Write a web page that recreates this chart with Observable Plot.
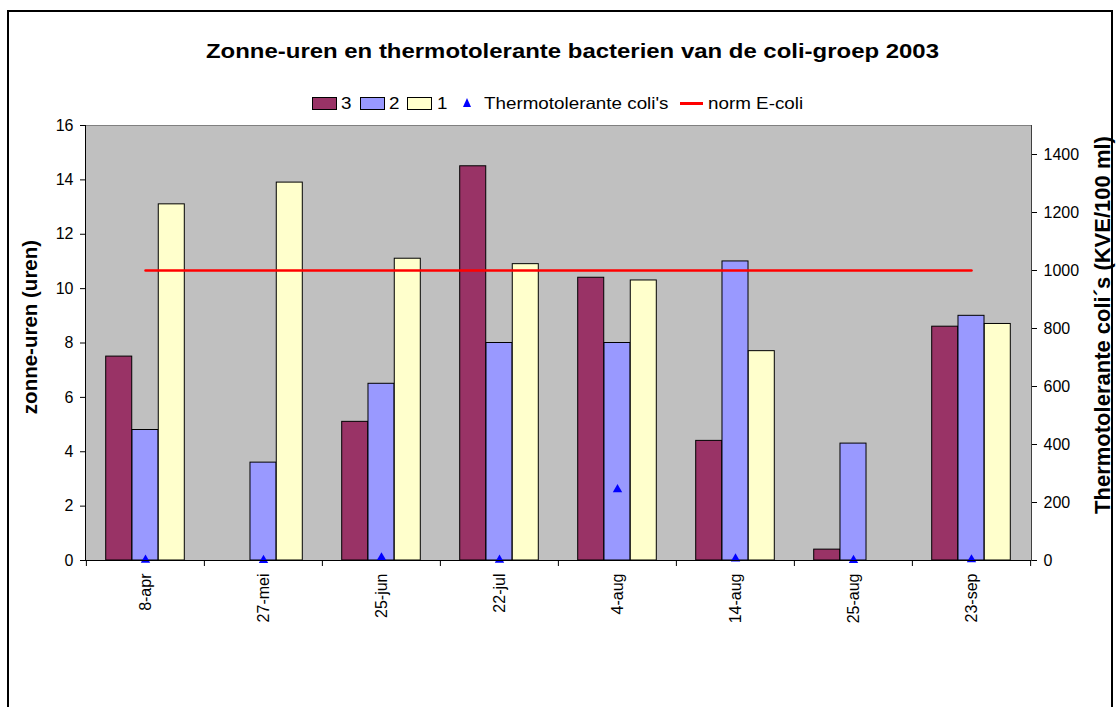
<!DOCTYPE html>
<html>
<head>
<meta charset="utf-8">
<script src="https://cdn.jsdelivr.net/npm/d3@7"></script>
<script src="https://cdn.jsdelivr.net/npm/@observablehq/plot@0.6"></script>
<style>
  body { margin: 0; width: 1116px; height: 707px; overflow: hidden; background: #fff; position: relative;
         font-family: "Liberation Sans", Arial, sans-serif; color: #000; }
  #frame { position: absolute; left: 7px; top: 10px; width: 1106px; height: 720px; border: 2px solid #000; box-sizing: border-box; }
  #title { position: absolute; left: 14px; width: 1116px; top: 39px; height: 24px; line-height: 24px; text-align: center; }
  #title span { display: inline-block; font-weight: bold; font-size: 21px; transform: scaleX(1.14); transform-origin: center; white-space: nowrap; }
  .lg { position: absolute; }
  .sw { position: absolute; top: 97px; width: 23px; height: 11px; border: 1px solid #000; }
  .lt { position: absolute; top: 95px; height: 16px; line-height: 16px; font-size: 16.5px; transform: scaleX(1.14); transform-origin: left center; white-space: nowrap; }
  #chart { position: absolute; left: 0; top: 110px; }
</style>
</head>
<body>
<div id="frame"></div>
<div id="title"><span id="titleText"></span></div>
<div id="legend"></div>
<div id="chart"></div>
<script>
// ---- data ----
const titleText = "Zonne-uren en thermotolerante bacterien van de coli-groep 2003";
const leftTitle = "zonne-uren (uren)";
const rightTitle = "Thermotolerante coli´s (KVE/100 ml)";
const categories = ["8-apr", "27-mei", "25-jun", "22-jul", "4-aug", "14-aug", "25-aug", "23-sep"];
const seriesNames = ["3", "2", "1"];
const series3 = [7.5, null, 5.1, 14.5, 10.4, 4.4, 0.4, 8.6];
const series2 = [4.8, 3.6, 6.5, 8.0, 8.0, 11.0, 4.3, 9.0];
const series1 = [13.1, 13.9, 11.1, 10.9, 10.3, 7.7, null, 8.7];
const coli = [2, 1, 10, 2, 245, 6, 1, 3];
const normEcoli = [1000, 1000, 1000, 1000, 1000, 1000, 1000, 1000];
const leftTicks = [0, 2, 4, 6, 8, 10, 12, 14, 16];
const rightTicks = [0, 200, 400, 600, 800, 1000, 1200, 1400];
const leftMax = 16, rightMax = 1500;
const colors = {"3": "#993366", "2": "#9999FF", "1": "#FFFFCC"};

// ---- title & legend (HTML) ----
document.getElementById("titleText").textContent = titleText;
const legend = document.getElementById("legend");
function add(html) { legend.insertAdjacentHTML("beforeend", html); }
const swX = {"3": 312, "2": 360, "1": 407};
const swT = {"3": 341, "2": 389, "1": 437};
for (const s of seriesNames) {
  add(`<div class="sw" style="left:${swX[s]}px;background:${colors[s]}"></div>`);
  add(`<div class="lt" style="left:${swT[s]}px">${s}</div>`);
}
add(`<div class="lg" style="left:463px;top:98px;width:0;height:0;border-left:4.5px solid transparent;border-right:4.5px solid transparent;border-bottom:9px solid #0000FF"></div>`);
add(`<div class="lt" style="left:484px">Thermotolerante coli's</div>`);
add(`<div class="lg" style="left:680px;top:102px;width:23px;height:3px;background:#FF0000"></div>`);
add(`<div class="lt" style="left:708px">norm E-coli</div>`);

// ---- chart ----
const marginLeft = 85, marginRight = 85, width = 1116;
const bw = (width - marginLeft - marginRight) / categories.length;
const barW = bw / 4.5;
const toLeft = v => v * leftMax / rightMax;

const seriesData = {"3": series3, "2": series2, "1": series1};
const barRows = s => categories.map((c, i) => ({cat: c, value: seriesData[s][i]})).filter(d => d.value != null);
const coliRows = categories.map((c, i) => ({cat: c, value: coli[i]}));
const normRows = categories.map((c, i) => ({cat: c, value: normEcoli[i]}));
const insets = {
  "3": [0.75 * barW, bw - 1.75 * barW],
  "2": [1.75 * barW, bw - 2.75 * barW],
  "1": [2.75 * barW, bw - 3.75 * barW]
};

const chart = Plot.plot({
  width, height: 597,
  marginTop: 15, marginBottom: 147, marginLeft, marginRight,
  style: {fontFamily: "'Liberation Sans', Arial, sans-serif", fontSize: "16px", background: "transparent", overflow: "visible", color: "#000"},
  x: {type: "band", domain: categories, padding: 0},
  y: {domain: [0, leftMax]},
  marks: [
    Plot.frame({fill: "#C0C0C0", stroke: "#808080"}),
    ...seriesNames.map(s => Plot.barY(barRows(s), {
      x: "cat", y: "value", fill: colors[s], stroke: "#000", strokeWidth: 1,
      insetLeft: insets[s][0], insetRight: insets[s][1]
    })),
    Plot.lineY(normRows, {x: "cat", y: d => toLeft(d.value), stroke: "#FF0000", strokeWidth: 2.5}),
    Plot.dot(coliRows, {x: "cat", y: d => toLeft(d.value), symbol: "triangle", fill: "#0000FF", r: 3.5}),
    Plot.frame({anchor: "left", stroke: "#000"}),
    Plot.frame({anchor: "bottom", stroke: "#000"}),
    Plot.frame({anchor: "right", stroke: "#404040"}),
    Plot.axisY({ticks: leftTicks, tickSize: 5, tickPadding: 7, label: null}),
    Plot.axisY({anchor: "right", ticks: rightTicks.map(toLeft), tickFormat: d => String(Math.round(d * rightMax / leftMax)), tickSize: 5, tickPadding: 7, label: null}),
    Plot.axisX({tickSize: 0, tickPadding: 13, tickRotate: -90, label: null}),
    Plot.axisX({tickSize: 6, tickFormat: () => "", dx: -bw / 2, label: null}),
    Plot.axisX([categories[categories.length - 1]], {tickSize: 6, tickFormat: () => "", dx: bw / 2, label: null}),
    Plot.text([leftTitle], {text: d => d, frameAnchor: "left", dx: -55, dy: -16, rotate: -90, textAnchor: "middle", fontWeight: "bold", fontSize: 20.5}),
    Plot.text([rightTitle], {text: d => d, frameAnchor: "right", dx: 71, dy: -18, rotate: -90, textAnchor: "middle", fontWeight: "bold", fontSize: 22})
  ]
});
document.getElementById("chart").appendChild(chart);
</script>
</body>
</html>
